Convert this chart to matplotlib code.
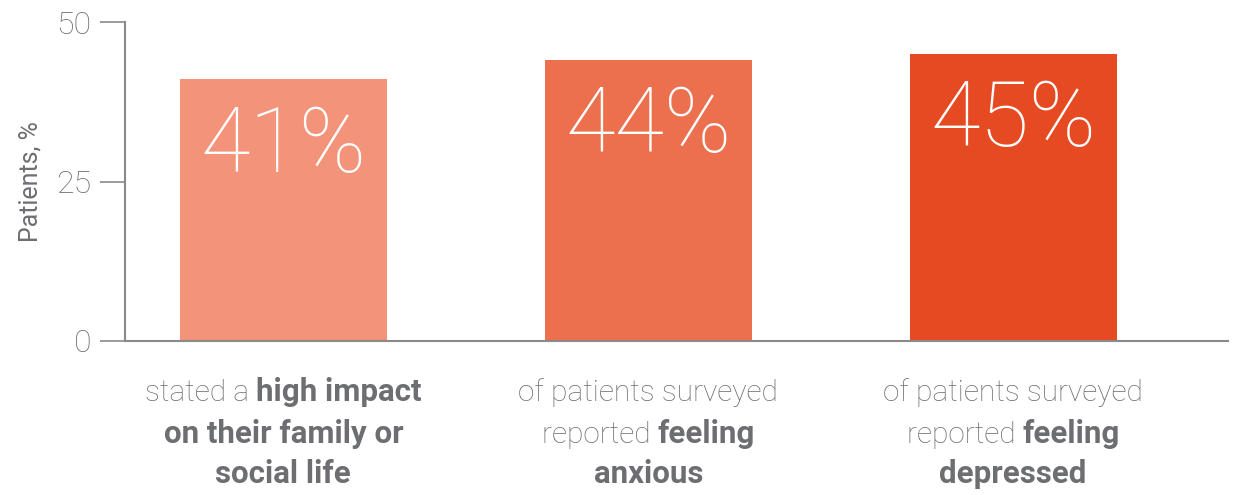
import matplotlib
matplotlib.use('Agg')
import matplotlib.pyplot as plt

# data
values = [41, 44, 45]
bar_labels = ['41%', '44%', '45%']
colors = ['#F2937A', '#EC6F4E', '#E64A22']
# category captions: lines of (text, bold?) segments
captions = [
    [[('stated a ', False), ('high impact', True)],
     [('on their family or', True)],
     [('social life', True)]],
    [[('of patients surveyed', False)],
     [('reported ', False), ('feeling', True)],
     [('anxious', True)]],
    [[('of patients surveyed', False)],
     [('reported ', False), ('feeling', True)],
     [('depressed', True)]],
]
yticks = [0, 25, 50]

GRAY = '#6d6e71'
FONT = ['Roboto', 'DejaVu Sans']

plt.rcParams['font.family'] = FONT

fig = plt.figure(figsize=(12.35, 4.95), dpi=100)
ax = fig.add_axes([125 / 1235, 1 - 341 / 495, (1228 - 125) / 1235, (341 - 22) / 495])

x = list(range(len(values)))
ax.bar(x, values, width=0.567, color=colors, zorder=2)
ax.set_xlim(-0.434, 2.589)
ax.set_ylim(0, 50)

for xi, v, lab in zip(x, values, bar_labels):
    ax.annotate(lab, (xi, v), xytext=(0, -17), textcoords='offset points',
                ha='center', va='top', color='white', fontsize=65,
                fontweight='light', family=FONT)

for s in ['top', 'right']:
    ax.spines[s].set_visible(False)
for s in ['left', 'bottom']:
    ax.spines[s].set_color('#8a8a8a')
    ax.spines[s].set_linewidth(1.5)

ax.set_xticks([])
ax.set_yticks(yticks)
ax.tick_params(axis='y', length=18, width=1.2, color='#8a8a8a',
               labelsize=23, labelcolor=GRAY, pad=6)
for t in ax.get_yticklabels():
    t.set_fontweight('light')
ax.set_ylabel('Patients, %', fontsize=18, color=GRAY, labelpad=10)

# captions with mixed weights, centred under each bar
fig.canvas.draw()
r = fig.canvas.get_renderer()
baselines = [401, 443, 483]
for xi, lines in zip(x, captions):
    cx = ax.transData.transform((xi, 0))[0]
    for segs, by in zip(lines, baselines):
        texts = []
        for s, b in segs:
            t = fig.text(0, 0, s, fontsize=22.5 if b else 21.5, color=GRAY,
                         fontweight='bold' if b else 'light',
                         va='baseline', ha='left', family=FONT)
            texts.append(t)
        widths = [t.get_window_extent(r).width for t in texts]
        left = cx - sum(widths) / 2
        for t, w in zip(texts, widths):
            t.set_position((left / 1235, 1 - by / 495))
            left += w

fig.savefig('out.png', dpi=100)
